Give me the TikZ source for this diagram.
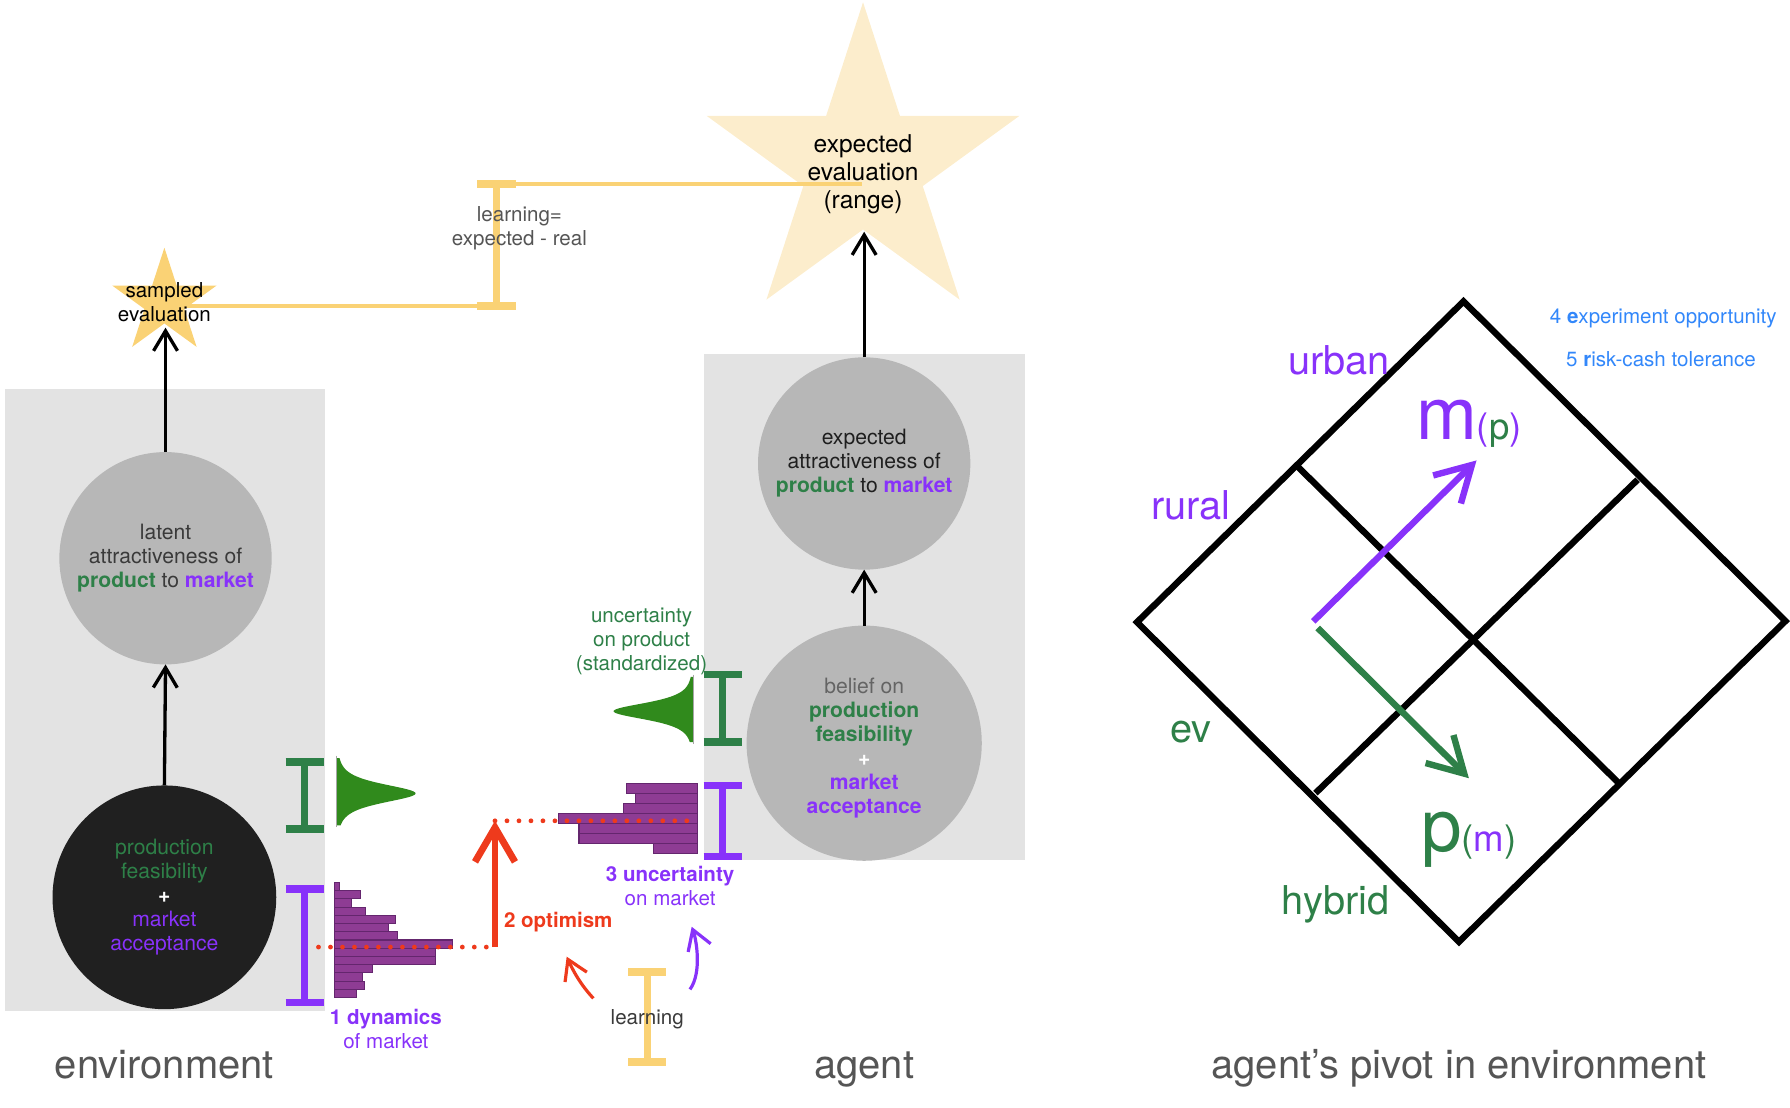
\documentclass[tikz,border=0pt]{standalone}
\usepackage{fontspec}
\setmainfont{TeX Gyre Heros}
\usetikzlibrary{shapes.geometric,arrows.meta}
\definecolor{boxgray}{RGB}{227,227,227}
\definecolor{circgray}{RGB}{183,183,183}
\definecolor{circblack}{RGB}{32,32,32}
\definecolor{mygreen}{RGB}{46,128,72}
\definecolor{bellgreen}{RGB}{48,138,28}
\definecolor{mypurple}{RGB}{136,50,250}
\definecolor{myred}{RGB}{238,58,28}
\definecolor{myyellow}{RGB}{250,210,117}
\definecolor{lightyellow}{RGB}{252,237,204}
\definecolor{histfill}{RGB}{142,60,148}
\definecolor{histline}{RGB}{100,38,110}
\definecolor{myblue}{RGB}{50,135,250}
\definecolor{labgray}{RGB}{85,85,85}
\definecolor{txtgray}{RGB}{58,58,58}
\definecolor{beliefgray}{RGB}{100,100,100}
\newcommand{\myibeam}[4]{%
  \draw[#1,line width=3pt] (#2,#3) -- (#2,#4);
  \draw[#1,line width=3.3pt] ({#2-16.75},#3) -- ({#2+16.75},#3);
  \draw[#1,line width=3.3pt] ({#2-16.75},#4) -- ({#2+16.75},#4);}
\begin{document}
\begin{tikzpicture}[x=0.5pt,y=-0.5pt,
  boxbg/.style={rectangle,fill=boxgray,inner sep=0pt,outer sep=0pt},
  circnode/.style={circle,inner sep=0pt,outer sep=0pt,align=center,font=\fontsize{9.25}{10.5}\selectfont},
  starnode/.style={star,star points=5,star point ratio=2.618,inner sep=0pt,outer sep=0pt},
  lbl/.style={align=center,inner sep=0pt,font=\fontsize{9}{10.5}\selectfont},
  biglbl/.style={inner sep=0pt,text=labgray,font=\fontsize{17.5}{20}\selectfont},
  axlbl/.style={inner sep=0pt,font=\fontsize{17.4}{20}\selectfont},
  blackarrow/.style={line width=1.45pt,-{Straight Barb[length=8.75pt,width=10.5pt]}},
  redarrow/.style={myred,line width=3pt,-{Straight Barb[length=15pt,width=17.5pt]}},
  curvearrow/.style={line width=1.4pt,-{Straight Barb[length=8.5pt,width=10.5pt]}},
  diamarrow/.style={line width=2.8pt,-{Straight Barb[length=15.3pt,width=17.3pt]}},
  reddot/.style={myred,line width=2.1pt,line cap=round,dash pattern=on 0pt off 5.25pt},
  yline/.style={myyellow,line width=2pt},
  hist/.style={fill=histfill,draw=histline,line width=0.5pt},
  diam/.style={line width=2.8pt,line join=miter}
]
\useasboundingbox (0,0) rectangle (1568,970);

% gray background boxes
\node[boxbg,minimum width=140.5pt,minimum height=272.5pt] (envbox) at (144.5,613.5) {};
\node[boxbg,minimum width=140.5pt,minimum height=221.5pt] (agentbox) at (757.5,531.5) {};

% circles
\node[circnode,fill=circgray,minimum size=93pt,text=txtgray] (latent) at (145,489)
  {latent\\attractiveness of\\{\bfseries\color{mygreen}product} to {\bfseries\color{mypurple}market}};
\node[circnode,fill=circblack,minimum size=98pt] (prod) at (144,786)
  {{\color{mygreen}production}\\{\color{mygreen}feasibility}\\{\bfseries\color{white}+}\\{\color{mypurple}market}\\{\color{mypurple}acceptance}};
\node[circnode,fill=circgray,minimum size=93pt,text=black!88] (expattr) at (757,406)
  {expected\\attractiveness of\\{\bfseries\color{mygreen}product} to {\bfseries\color{mypurple}market}};
\node[circnode,fill=circgray,minimum size=103pt] (belief) at (757,651) {};
\node[circnode] (belieflbl) at (757,655)
  {{\color{beliefgray}belief on}\\{\bfseries\color{mygreen}production}\\{\bfseries\color{mygreen}feasibility}\\{\bfseries\color{white}+}\\{\bfseries\color{mypurple}market}\\{\bfseries\color{mypurple}acceptance}};

% stars
\node[starnode,fill=lightyellow,minimum size=144pt] (estar) at (756,146) {};
\node[starnode,fill=myyellow,minimum size=48pt] (sstar) at (144,265) {};
\coordinate (sstarin) at (145,287);
\coordinate (estarin) at (757,203);
\coordinate (sstarline) at (144,268);
\coordinate (estarline) at (755,161);

% learning bracket between evaluations
\coordinate (ytop) at (435,161);
\coordinate (ybot) at (435,268);
\draw[yline] (sstarline) -- (ybot);
\draw[yline] (ytop) -- (estarline);
\myibeam{myyellow}{435}{161}{268}

% star labels
\node[inner sep=0pt,align=center,font=\fontsize{9}{10.5}\selectfont] (slbl) at (144,265) {sampled\\evaluation};
\node[inner sep=0pt,align=center,font=\fontsize{10.75}{12.25}\selectfont] (elbl) at (756,152.5) {expected\\evaluation\\(range)};
\node[lbl,text=labgray] (learneq) at (455,200) {learning=\\expected - real};

% black arrows
\draw[blackarrow] (prod.north) -- (latent.south);
\draw[blackarrow] (latent.north) -- (sstarin);
\draw[blackarrow] (belief.north) -- (expattr.south);
\draw[blackarrow] (expattr.north) -- (estarin);

% brackets
\myibeam{mygreen}{267}{667.5}{726.2}
\myibeam{mypurple}{267}{778.5}{878.1}
\myibeam{mygreen}{633}{591}{650}
\myibeam{mypurple}{633}{688}{750.2}
\myibeam{myyellow}{567}{851.4}{930.3}

% bell curves
\fill[bellgreen] (295,664) -- plot[domain=-31:28,samples=90] ({295+69/((1+(\x/8.6)^2/3)^2)},{695+\x}) -- (295,723) -- cycle;
\draw[black!35,line width=0.3pt] (295,662) -- (295,724);
\fill[bellgreen] (607,593) -- plot[domain=-30:27,samples=90] ({607-69.5/((1+(\x/7.8)^2/3)^2)},{623+\x}) -- (607,650) -- cycle;
\draw[black!35,line width=0.3pt] (607,591) -- (607,652);

% histograms
\foreach \w [count=\i from 0] in {4.7,23.1,14.6,27.2,53.1,47.6,55.5,103.7,88.5,88.5,33.0,24.5,26.0,19.0}
  \filldraw[hist] (293,{773+\i*7.2}) rectangle ++(\w,7.2);
\foreach \l [count=\i from 0] in {549.0,556.3,546.0,489.1,507.2,507.2,572.3}
  \filldraw[hist] (\l,{686.2+\i*8.76}) rectangle (611,{686.2+(\i+1)*8.76});

% optimism
\coordinate (dotL) at (279,829.6);
\coordinate (abase) at (433.6,829.6);
\coordinate (atip) at (433.6,719);
\coordinate (dotR) at (606,719);
\draw[reddot] (dotL) -- (abase);
\draw[reddot] (atip) -- (dotR);
\draw[redarrow] (abase) -- (atip);

% labels around
\node[lbl,text=mygreen] (uprod) at (562,562) {uncertainty\\on product\\(standardized)};
\node[lbl,text=mypurple] (umark) at (587,776) {{\bfseries 3 uncertainty}\\on market};
\node[lbl,text=myred,font=\fontsize{9}{10.5}\selectfont\bfseries] (optim) at (489,808) {2 optimism};
\node[lbl,text=mypurple] (dynm) at (338,901) {{\bfseries 1 dynamics}\\of market};
\node[lbl,text=txtgray] (learn) at (567,893) {learning};

% learning curved arrows
\coordinate (rs) at (519.8,874.5);
\coordinate (re) at (496.4,838);
\coordinate (ps) at (604.4,866.7);
\coordinate (pe) at (605.9,811.8);
\draw[curvearrow,myred] (rs) .. controls (508,862) and (501.4,849) .. (re);
\draw[curvearrow,mypurple] (ps) .. controls (615,852) and (610,823) .. (pe);

% bottom titles
\node[biglbl,anchor=base] (tenv) at (144,945) {environment};
\node[biglbl,anchor=base] (tagent) at (757,945) {agent};
\node[biglbl,anchor=base] (tpivot) at (1278,945) {agent’s pivot in environment};

% diamond
\coordinate (dT) at (1282,264);
\coordinate (dR) at (1564,544);
\coordinate (dB) at (1278,825);
\coordinate (dL) at (996,545);
\draw[diam] (dT) -- (dR) -- (dB) -- (dL) -- cycle;
\coordinate (i1a) at (1137,409);
\coordinate (i1b) at (1417.5,685.5);
\coordinate (i2a) at (1152.3,694.8);
\coordinate (i2b) at (1434.5,420.2);
\draw[diam] (i1a) -- (i1b);
\draw[diam] (i2a) -- (i2b);
\coordinate (ms) at (1150.4,544.3);
\coordinate (me) at (1293.4,403.3);
\coordinate (gs) at (1154.2,550);
\coordinate (ge) at (1286.7,681.7);
\draw[diamarrow,mypurple] (ms) -- (me);
\draw[diamarrow,mygreen] (gs) -- (ge);

\node[axlbl,text=mypurple] (urban) at (1173,316) {urban};
\node[axlbl,text=mypurple] (rural) at (1043,443) {rural};
\node[axlbl,text=mygreen] (ev) at (1043,641) {ev};
\node[axlbl,text=mygreen] (hybrid) at (1170,792) {hybrid};
\node[inner sep=0pt,anchor=base west] (mp) at (1240,385)
  {{\fontsize{32}{32}\selectfont\color{mypurple}m}{\fontsize{16}{16}\selectfont\color{mypurple}(\textcolor{mygreen}{p})}};
\node[inner sep=0pt,anchor=base west] (pm) at (1244.5,745.6)
  {{\fontsize{32}{32}\selectfont\color{mygreen}p}{\fontsize{16}{16}\selectfont\color{mygreen}(\textcolor{mypurple}{m})}};
\node[lbl,text=myblue] (exper) at (1457,279) {4 {\bfseries e}xperiment opportunity};
\node[lbl,text=myblue] (risk) at (1455,315) {5 {\bfseries r}isk-cash tolerance};
\end{tikzpicture}
\end{document}
